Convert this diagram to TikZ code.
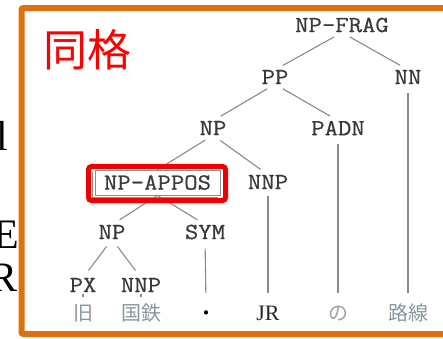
\documentclass[tikz,border=0pt]{standalone}
\usepackage{fontspec}
\setmainfont{Liberation Serif}
\newfontfamily\labfont{Latin Modern Mono}[FakeStretch=1.13,FakeBold=0.6]
\newfontfamily\jpfont{Noto Sans CJK JP}
\definecolor{frameorange}{HTML}{E0700F}
\definecolor{labgray}{HTML}{3A3A3A}
\definecolor{linegray}{HTML}{8A8A8A}
\definecolor{boxgray}{HTML}{909090}
\definecolor{wordgray}{HTML}{8796A0}
\definecolor{nogray}{HTML}{A0A0A0}
\definecolor{redbox}{HTML}{F00000}
\begin{document}
\begin{tikzpicture}[x=1pt,y=-1pt,
  lab/.style={font=\labfont\fontsize{23}{23}\selectfont, text=labgray, inner sep=0pt},
  word/.style={font=\jpfont\fontsize{20}{20}\selectfont, inner sep=0pt, text height=17pt, text depth=3pt},
  edge/.style={draw=linegray, line width=1.1pt, shorten <=9pt, shorten >=9pt},
  frag/.style={font=\fontsize{42}{42}\selectfont, anchor=base east, inner sep=0pt}]
\useasboundingbox (0,0) rectangle (443,338);
\clip (0,0) rectangle (443,338);
% background slide fragments
\node[frag] (fl) at (8,150) {l};
\node[frag] (fe) at (19,248) {E};
\node[frag] (fr) at (18,291) {R};
% frame
\draw[frameorange, line width=6pt, fill=white, rounded corners=2pt] (21.5,8) rectangle (470,334);
% title
\node[font=\jpfont\fontsize{44}{44}\selectfont, text=red, inner sep=0pt] (title) at (87,50) {同格};
% tree labels
\node[lab] (frag) at (342,25) {NP-FRAG};
\node[lab] (pp) at (275,77) {PP};
\node[lab] (nn) at (408,77) {NN};
\node[lab] (np1) at (213,128) {NP};
\node[lab] (padn) at (338,128) {PADN};
\node[lab, draw=boxgray, line width=0.6pt, minimum width=125pt, minimum height=25pt] (appos) at (157.5,182.5) {NP-APPOS};
\draw[boxgray, line width=0.6pt] ([xshift=-2pt,yshift=-2pt]appos.north west) |- ([xshift=-2pt,yshift=-2pt]appos.south east);
\node[lab] (nnp1) at (268,182) {NNP};
\node[lab] (np2) at (112,232) {NP};
\node[lab] (sym) at (205,232) {SYM};
\node[lab] (px) at (83,285) {PX};
\node[lab] (nnp2) at (141,285) {NNP};
% words
\node[word, text=wordgray] (w1) at (83,313) {旧};
\node[word, text=wordgray] (w2) at (141,313) {国鉄};
\node[word, text=black] (w3) at (206,313) {・};
\node[font=\fontsize{22}{22}\selectfont, text=black!85, inner sep=0pt, text height=17pt, text depth=3pt] (w4) at (268,313) {JR};
\node[word, text=nogray] (w5) at (338,313) {の};
\node[word, text=wordgray] (w6) at (408,313) {路線};
% edges
\draw[edge] (frag.south) -- (pp.north);
\draw[edge] (frag.south) -- (nn.north);
\draw[edge] (pp.south) -- (np1.north);
\draw[edge] (pp.south) -- (padn.north);
\draw[edge, shorten >=0pt] (np1.south) -- (appos.north);
\draw[edge] (np1.south) -- (nnp1.north);
\draw[edge, shorten <=0pt] (appos.south) -- (np2.north);
\draw[edge, shorten <=0pt] (appos.south) -- (sym.north);
\draw[edge] (np2.south) -- (px.north);
\draw[edge] (np2.south) -- (nnp2.north);
\draw[edge, shorten <=2pt, shorten >=6pt] (px.south) -- (w1.north);
\draw[edge, shorten <=2pt, shorten >=6pt] (nnp2.south) -- (w2.north);
\draw[edge, shorten >=10pt] (sym.south) -- (w3.north);
\draw[edge, shorten <=7pt, shorten >=10pt] (nnp1.south) -- (w4.north);
\draw[edge, shorten >=10pt] (padn.south) -- (w5.north);
\draw[edge, shorten >=10pt] (nn.south) -- (w6.north);
% highlight
\node[draw=redbox, line width=5pt, rounded corners=3pt, minimum width=137pt, minimum height=34pt, inner sep=0pt] (hl) at (157,183.5) {};
\end{tikzpicture}
\end{document}
